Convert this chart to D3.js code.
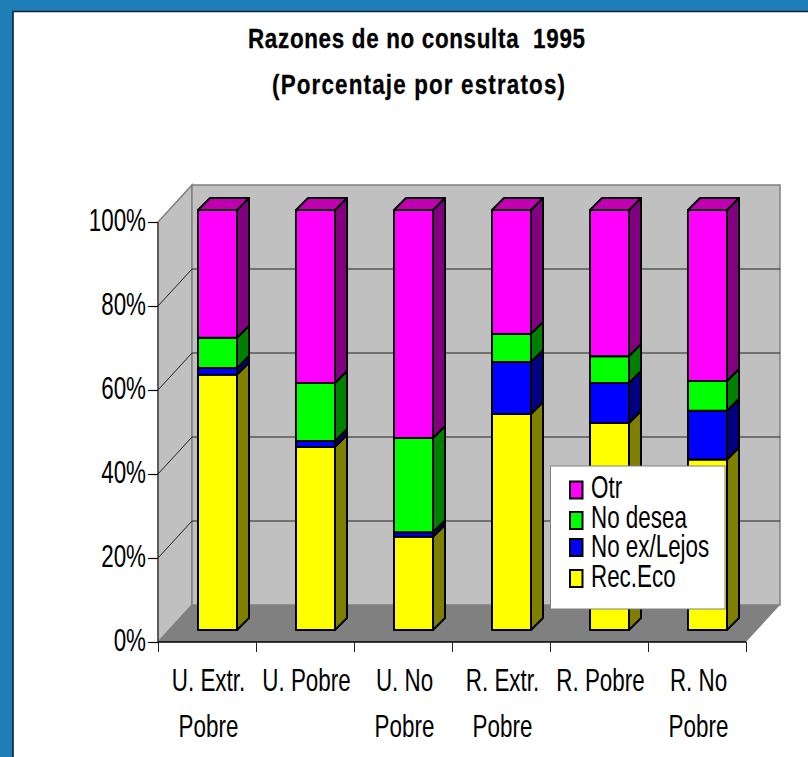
<!DOCTYPE html>
<html><head><meta charset="utf-8">
<script src="https://cdn.jsdelivr.net/npm/d3@7"></script>
<style>html,body{margin:0;padding:0;background:#fff}svg{display:block}text{font-family:"Liberation Sans",Arial,sans-serif;fill:#000}</style>
</head><body><div id="c"></div>
<script>
const categories=[["U. Extr.","Pobre"],["U. Pobre"],["U. No","Pobre"],["R. Extr.","Pobre"],["R. Pobre"],["R. No","Pobre"]];
const seriesNames=["Rec.Eco","No ex/Lejos","No desea","Otr"];
const recEco=[60.8,43.6,22.2,51.4,49.3,40.6];
const noExLejos=[1.6,1.4,1.1,12.4,9.5,11.6];
const noDesea=[7.2,13.8,22.4,6.7,6.4,7.1];
const otr=[30.4,41.2,54.3,29.5,34.8,40.7];
const seriesValues=[recEco,noExLejos,noDesea,otr];
const faceColors=["#ffff00","#0000ff","#00ff00","#ff00ff"];
const sideColors=["#808000","#000080","#008000","#800080"];
const topColor="#c000b0";
const legendOrder=[3,2,1,0];
const yTicks=[0,20,40,60,80,100];

const W=808,H=757;
const svg=d3.select("#c").append("svg").attr("width",W).attr("height",H);
const x=d3.scaleBand().domain(d3.range(categories.length)).range([158,746]).padding(0);
const y=d3.scaleLinear().domain([0,100]).range([642,222]);
const DX=34,DY=37,bw=39,bd=12;
const P=a=>a.map(p=>p.join(",")).join(" ");
function cond(sel,xp,yp,size,sx,anchor,weight){
  sel.attr("transform",`translate(${xp},${yp}) scale(${sx},1)`).attr("font-size",size).attr("text-anchor",anchor||"start");
  if(weight)sel.attr("font-weight",weight);return sel;
}
// frame
svg.append("rect").attr("width",W).attr("height",H).attr("fill","#1f7eb6");
svg.append("rect").attr("x",13).attr("y",12).attr("width",W-13).attr("height",H-12).attr("fill","#fff");
svg.append("path").attr("d",`M13,${H}V11.5H${W}`).attr("fill","none").attr("stroke","#06233a").attr("stroke-width",1.6);
// title
const tsx=.8;
svg.append("text").text("Razones de no consulta  1995").style("white-space","pre").attr("textLength",337/tsx).attr("lengthAdjust","spacing").style("stroke","#000").style("stroke-width",.3).call(cond,416.5,48,28,tsx,"middle","bold");
svg.append("text").text("(Porcentaje por estratos)").attr("textLength",293/tsx).attr("lengthAdjust","spacing").style("stroke","#000").style("stroke-width",.3).call(cond,418.5,94,28,tsx,"middle","bold");
// walls
const x0=x.range()[0],x1=x.range()[1],yb=y(0),yt=y(100);
svg.append("polygon").attr("points",P([[x0,yb],[x0+DX,yb-DY],[x0+DX,yt-DY],[x0,yt]])).attr("fill","#c0c0c0").attr("stroke","#808080").attr("stroke-width",1.5);
svg.append("polygon").attr("points",P([[x0+DX,yb-DY],[x1+DX,yb-DY],[x1+DX,yt-DY],[x0+DX,yt-DY]])).attr("fill","#c0c0c0").attr("stroke","#808080").attr("stroke-width",1.5);
svg.append("polygon").attr("points",P([[x0,yb],[x1,yb],[x1+DX,yb-DY],[x0+DX,yb-DY]])).attr("fill","#808080");
// grid
yTicks.filter(t=>t>0&&t<100).forEach(t=>{
  svg.append("path").attr("d",`M${x0},${y(t)}L${x0+DX},${y(t)-DY}H${x1+DX}`).attr("fill","none").attr("stroke","#222").attr("stroke-width",1);
});
// bars
const offX=(x.bandwidth()-bw)/2+10.5, offY=12;
categories.forEach((c,i)=>{
  const L=x(i)+offX,R=L+bw;
  let cum=0;
  const g=svg.append("g").attr("stroke","#000").attr("stroke-width",2).attr("stroke-linejoin","round");
  seriesValues.forEach((s,k)=>{
    const a=y(cum)-offY,b=y(cum+s[i])-offY;
    cum+=s[i];
    g.append("polygon").attr("points",P([[R,a],[R+bd,a-bd],[R+bd,b-bd],[R,b]])).attr("fill",sideColors[k]);
    g.append("rect").attr("x",L).attr("y",b).attr("width",bw).attr("height",a-b).attr("fill",faceColors[k]);
    if(k===seriesValues.length-1)g.append("polygon").attr("points",P([[L,b],[L+bd,b-bd],[R+bd,b-bd],[R,b]])).attr("fill",topColor);
  });
});
// axes
const yAxis=d3.axisLeft(y).tickValues(yTicks).tickFormat(d=>d+"%").tickSize(10).tickPadding(0);
const ga=svg.append("g").attr("transform",`translate(${x0},0)`).call(yAxis);
ga.select(".domain").remove();ga.selectAll("line").attr("stroke","#000").attr("stroke-width",1.2);
ga.selectAll("text").remove();
svg.append("path").attr("d",`M${x0},${yt}V${yb}`).attr("stroke","#222").attr("stroke-width",1);
yTicks.forEach(t=>svg.append("text").text(t+"%").call(cond,146,y(t)+8.5,32,.70,"end"));
svg.append("path").attr("d",`M${x0},${yb}H${x1}`).attr("stroke","#000").attr("stroke-width",1.5);
d3.range(categories.length+1).forEach(i=>{
  const xp=i<categories.length?x(i):x1;
  svg.append("path").attr("d",`M${xp+.5},${yb}v10`).attr("stroke","#222").attr("stroke-width",1);
});
categories.forEach((c,i)=>{
  const cx=x(i)+x.bandwidth()/2;
  c.forEach((l,j)=>svg.append("text").text(l).call(cond,cx+1.5,691+j*46,32,.70,"middle"));
});
// legend
const lg=svg.append("g");
lg.append("rect").attr("x",550.5).attr("y",466).attr("width",174.5).attr("height",143).attr("fill","#fff").attr("stroke","#808080").attr("stroke-width",1);
const ly=[490,520.5,547.5,578.5],lb=[498,528,556.5,586.5];
legendOrder.forEach((k,r)=>{
  lg.append("rect").attr("x",570).attr("y",ly[r]-8.5).attr("width",12.5).attr("height",17).attr("fill",faceColors[k]).attr("stroke","#000").attr("stroke-width",2);
  lg.append("text").text(seriesNames[k]).call(cond,591,lb[r],32,.70,"start");
});
</script></body></html>
